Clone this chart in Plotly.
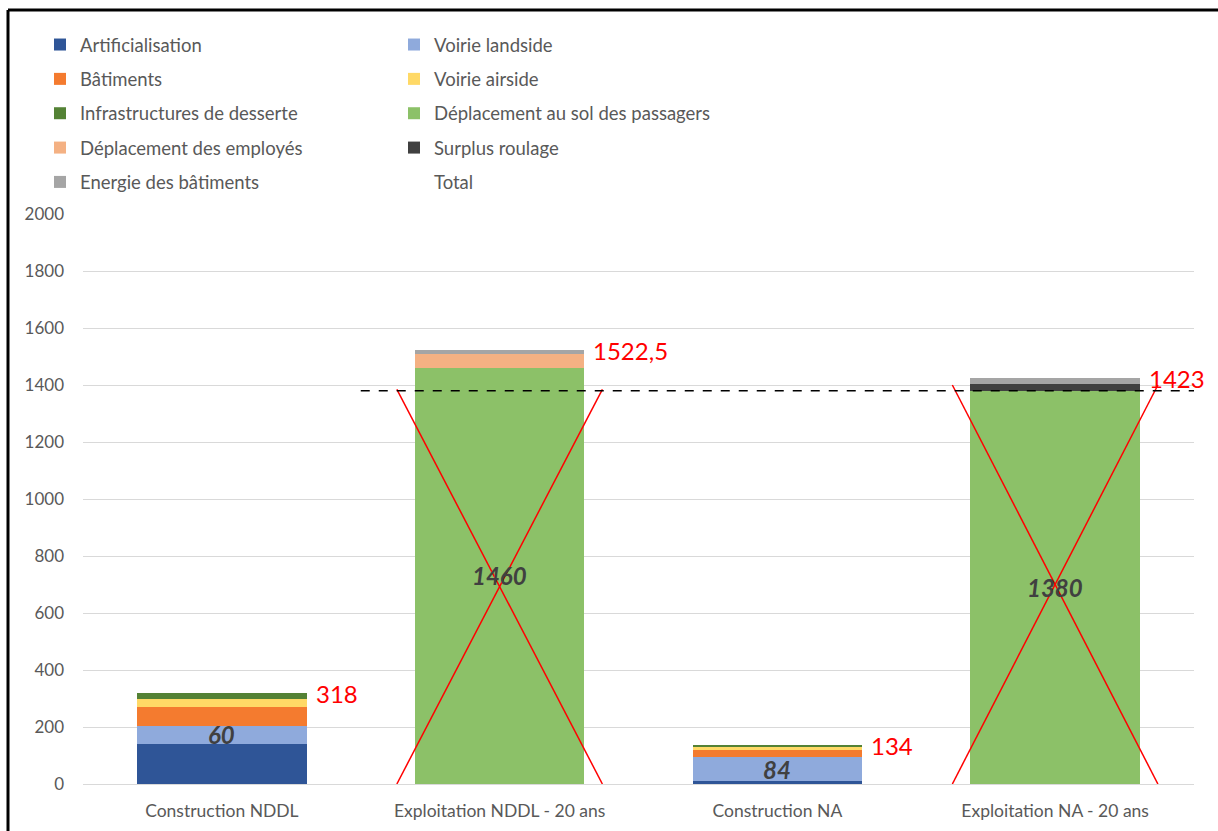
import plotly.graph_objects as go

# ---------------- data ----------------
categories = ["Construction NDDL", "Exploitation NDDL - 20 ans", "Construction NA", "Exploitation NA - 20 ans"]
artificialisation = [142, 0, 10, 0]
voirie_landside = [60, 0, 84, 0]
batiments = [68, 0, 27, 0]
voirie_airside = [30, 0, 9, 0]
infrastructures = [18, 0, 4, 0]
deplacement_passagers = [0, 1460, 0, 1380]
deplacement_employes = [0, 50, 0, 0]
surplus_roulage = [0, 0, 0, 23]
energie_batiments = [0, 12.5, 0, 20]
totals = [318, 1522.5, 134, 1423]
y_ticks = [0, 200, 400, 600, 800, 1000, 1200, 1400, 1600, 1800, 2000]

FONT = "Lato"
GREY = "#595959"

series = [
    ("Artificialisation", artificialisation, "#2F5597", "legend"),
    ("Voirie landside", voirie_landside, "#8FAADC", "legend2"),
    ("Bâtiments", batiments, "#F47B2F", "legend"),
    ("Voirie airside", voirie_airside, "#FFD966", "legend2"),
    ("Infrastructures de desserte", infrastructures, "#548235", "legend"),
    ("Déplacement au sol des passagers", deplacement_passagers, "#8CC168", "legend2"),
    ("Déplacement des employés", deplacement_employes, "#F4B183", "legend"),
    ("Surplus roulage", surplus_roulage, "#404040", "legend2"),
    ("Energie des bâtiments", energie_batiments, "#A5A5A5", "legend"),
]

fig = go.Figure()
for name, vals, color, leg in series:
    fig.add_trace(go.Bar(
        x=categories, y=vals, name=name, marker=dict(color=color, line=dict(width=0)),
        legend=leg, legendgroup=name, hoverinfo="skip",
    ))

fig.add_trace(go.Scatter(
    x=categories, y=totals, name="Total", mode="lines",
    line=dict(color="rgba(0,0,0,0)", width=0), legend="legend2", legendgroup="Total",
    hoverinfo="skip",
))

# inner labels (bold italic)
annotations = []
for i in range(len(categories)):
    if voirie_landside[i]:
        annotations.append(dict(x=i, y=artificialisation[i] + voirie_landside[i] / 2,
                                text=f"<b><i>{voirie_landside[i]}</i></b>", showarrow=False,
                                font=dict(family=FONT, size=24, color="#404040")))
    if deplacement_passagers[i]:
        annotations.append(dict(x=i, y=deplacement_passagers[i] / 2,
                                text=f"<b><i>{deplacement_passagers[i]}</i></b>", showarrow=False,
                                font=dict(family=FONT, size=24, color="#404040")))
# total labels (red)
for i, t in enumerate(totals):
    txt = (f"{t:g}").replace(".", ",")
    annotations.append(dict(x=i + 0.33, y=t, text=txt, showarrow=False, xanchor="left",
                            yanchor="middle", font=dict(family=FONT, size=24, color="#FF0000")))

shapes = []
# red crosses over the exploitation bars
for i, top in [(1, 1385), (3, 1400)]:
    shapes.append(dict(type="line", xref="x", yref="y", x0=i - 0.37, y0=top, x1=i + 0.37, y1=0,
                       line=dict(color="#FF0000", width=1.5)))
    shapes.append(dict(type="line", xref="x", yref="y", x0=i + 0.37, y0=top, x1=i - 0.37, y1=0,
                       line=dict(color="#FF0000", width=1.5)))
# dashed reference line
shapes.append(dict(type="line", xref="x", yref="y", x0=0.5, x1=3.53,
                   y0=deplacement_passagers[3], y1=deplacement_passagers[3],
                   line=dict(color="black", width=1.5, dash="dash")))
# outer chart border (left and top edges only visible)
bx = (8 - 83) / 1111
by = (784 - 10) / 570
shapes.append(dict(type="line", xref="paper", yref="paper", x0=bx, x1=bx, y0=-0.2, y1=by,
                   line=dict(color="black", width=3), layer="above"))
shapes.append(dict(type="line", xref="paper", yref="paper", x0=bx, x1=1.1, y0=by, y1=by,
                   line=dict(color="black", width=3), layer="above"))

legend_common = dict(
    orientation="v", yref="paper", xref="paper", y=(784 - 26) / 570, yanchor="top",
    xanchor="left", font=dict(family=FONT, size=18.5, color=GREY), bgcolor="rgba(0,0,0,0)",
    traceorder="grouped", tracegroupgap=7.3, itemclick=False, itemdoubleclick=False,
)

fig.update_layout(
    width=1218, height=831,
    margin=dict(l=83, r=24, t=214, b=47, autoexpand=False),
    paper_bgcolor="white", plot_bgcolor="white",
    barmode="stack", bargap=0.39,
    font=dict(family=FONT, size=16, color=GREY),
    showlegend=True,
    legend=dict(x=(40 - 83) / 1111, **legend_common),
    legend2=dict(x=(394 - 83) / 1111, **legend_common),
    xaxis=dict(type="category", range=[-0.5, 3.5], showgrid=False, showline=True,
               linecolor="#D9D9D9", linewidth=1, ticks="", ticklabelstandoff=11,
               tickfont=dict(family=FONT, size=17.5, color=GREY)),
    yaxis=dict(range=[0, 2000], tickvals=y_ticks, showgrid=True, gridcolor="#D9D9D9", gridwidth=1,
               zeroline=False, showline=False, ticks="", ticklabelstandoff=18,
               tickfont=dict(family=FONT, size=17, color=GREY)),
    annotations=annotations,
    shapes=shapes,
)

fig.write_html("out.html")
